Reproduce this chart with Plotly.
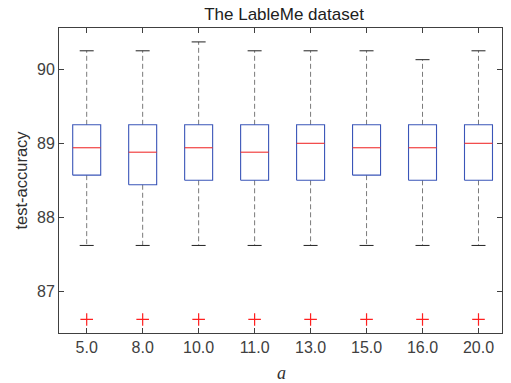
import plotly.graph_objects as go

categories = ["5.0", "8.0", "10.0", "11.0", "13.0", "15.0", "16.0", "20.0"]
upper_whisker = [90.25, 90.25, 90.37, 90.25, 90.25, 90.25, 90.13, 90.25]
q3 = [89.25, 89.25, 89.25, 89.25, 89.25, 89.25, 89.25, 89.25]
median = [88.94, 88.88, 88.94, 88.88, 89.00, 88.94, 88.94, 89.00]
q1 = [88.57, 88.44, 88.50, 88.50, 88.50, 88.57, 88.50, 88.50]
lower_whisker = [87.62, 87.62, 87.62, 87.62, 87.62, 87.62, 87.62, 87.62]
outliers = [86.62, 86.62, 86.62, 86.62, 86.62, 86.62, 86.62, 86.62]
yticks = [87, 88, 89, 90]

pos = list(range(1, len(categories) + 1))
hw = 0.25   # box half width
cw = 0.125  # cap half width

box_x, box_y = [], []
med_x, med_y = [], []
wh_x, wh_y = [], []
cap_x, cap_y = [], []
for i, p in enumerate(pos):
    box_x += [p - hw, p + hw, p + hw, p - hw, p - hw, None]
    box_y += [q1[i], q1[i], q3[i], q3[i], q1[i], None]
    med_x += [p - hw, p + hw, None]
    med_y += [median[i], median[i], None]
    wh_x += [p, p, None, p, p, None]
    wh_y += [q3[i], upper_whisker[i], None, q1[i], lower_whisker[i], None]
    cap_x += [p - cw, p + cw, None, p - cw, p + cw, None]
    cap_y += [upper_whisker[i], upper_whisker[i], None, lower_whisker[i], lower_whisker[i], None]

fig = go.Figure()
fig.add_trace(go.Scatter(x=wh_x, y=wh_y, mode="lines",
                         line=dict(color="#7a7a7a", width=1, dash="5px,3px"),
                         hoverinfo="skip", showlegend=False))
fig.add_trace(go.Scatter(x=cap_x, y=cap_y, mode="lines",
                         line=dict(color="#222222", width=1),
                         hoverinfo="skip", showlegend=False))
fig.add_trace(go.Scatter(x=box_x, y=box_y, mode="lines",
                         line=dict(color="#3a55b8", width=1.1),
                         hoverinfo="skip", showlegend=False))
fig.add_trace(go.Scatter(x=med_x, y=med_y, mode="lines",
                         line=dict(color="#f03030", width=1.1),
                         hoverinfo="skip", showlegend=False))
fig.add_trace(go.Scatter(x=pos, y=outliers, mode="markers",
                         marker=dict(symbol="cross-thin-open", size=9, color="#ff2020",
                                     line=dict(color="#ff2020", width=1.2)),
                         showlegend=False))

sans = "Liberation Sans, Arial, sans-serif"
axis_common = dict(showline=True, linecolor="#404040", linewidth=1, mirror="allticks",
                   ticks="inside", ticklen=5, tickcolor="#404040", showgrid=False,
                   zeroline=False, automargin=False,
                   tickfont=dict(family=sans, size=16, color="#404040"))

fig.update_layout(
    width=511, height=383,
    margin=dict(l=59, r=9, t=28, b=50),
    paper_bgcolor="white", plot_bgcolor="white",
    title=dict(text="The LableMe dataset", xref="paper", x=0.508, xanchor="center",
               yref="container", y=0.963, yanchor="middle",
               font=dict(family=sans, size=17, color="#202020")),
    xaxis=dict(range=[0.505, 8.42], tickvals=pos, ticktext=categories, **axis_common),
    yaxis=dict(range=[86.437, 90.558], tickvals=yticks, ticktext=[str(t) for t in yticks],
               **axis_common),
    annotations=[
        dict(text="test-accuracy", xref="paper", yref="paper", x=0, y=0.5,
             xanchor="center", yanchor="middle", xshift=-39, textangle=-90, showarrow=False,
             font=dict(family=sans, size=16.5, color="#303030")),
        dict(text="a", xref="paper", yref="paper", x=0.503, y=0,
             xanchor="center", yanchor="middle", yshift=-40, showarrow=False,
             font=dict(family="Liberation Serif, Times New Roman, serif", size=18,
                       color="#303030", style="italic")),
    ],
)

fig.write_html("out.html", config={"displayModeBar": False},
               post_script="document.body.style.margin='0';document.body.style.overflow='hidden';")
